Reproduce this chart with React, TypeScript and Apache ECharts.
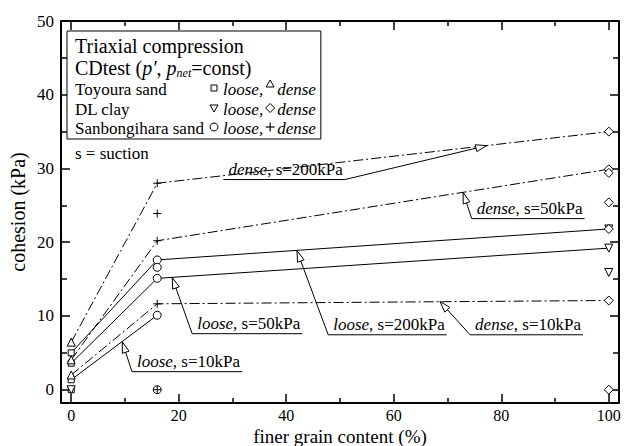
import React, { useEffect, useRef } from "react";
import * as echarts from "echarts";

// ---- axis ticks ----
const xTicks = [0, 20, 40, 60, 80, 100];
const xMinor = [10, 30, 50, 70, 90];
const yTicks = [0, 10, 20, 30, 40, 50];
const yMinor = [5, 15, 25, 35, 45];

// ---- finer grain content of each soil (%) ----
const toyouraX = 0;
const sanbongiharaX = 16;
const dlClayX = 100;

// ---- measured cohesion (kPa) ----
const toyouraLoose = [5.0, 3.6, 1.35, 0]; // squares
const toyouraDense = [6.45, 4.05, 2.0]; // triangles up
const toyouraExtra = [0]; // triangle down at origin
const sanbLoose = [17.6, 16.6, 15.1, 10.1, 0]; // circles
const sanbDense = [28, 23.9, 20.2, 11.65, 0]; // plus
const dlLoose = [21.8, 19.2, 15.9]; // triangles down
const dlDense = [35, 29.9, 29.4, 25.4, 21.8, 12.1, 0]; // diamonds

// ---- connecting lines ----
const fitX = [0, 16, 100];
const denseS200 = [6.45, 28, 35];
const denseS50 = [4.05, 20.2, 29.9];
const denseS10 = [2.0, 11.65, 12.1];
const looseS200 = [5.0, 17.6, 21.8];
const looseS50 = [3.6, 15.1, 19.2];
const looseS10 = [1.35, 10.1];

// ---- annotations (data coordinates) ----
const annotations = [
  { state: "loose", s: "10kPa", tip: [9.5, 6.5], anchor: [11.3, 2.45], side: "left" },
  { state: "loose", s: "50kPa", tip: [18.8, 15.2], anchor: [22.5, 7.6], side: "left" },
  { state: "loose", s: "200kPa", tip: [42, 18.85], anchor: [47.8, 7.45], side: "left" },
  { state: "dense", s: "10kPa", tip: [68.6, 11.95], anchor: [74.2, 7.45], side: "left" },
  { state: "dense", s: "50kPa", tip: [72.9, 26.75], anchor: [74.5, 23.2], side: "left" },
  { state: "dense", s: "200kPa", tip: [77.3, 33.1], anchor: [50.9, 28.5], side: "right" },
];

const legendRows = [
  { name: "Toyoura sand", loose: "square", dense: "triangleUp" },
  { name: "DL clay", loose: "triangleDown", dense: "diamond" },
  { name: "Sanbongihara sand", loose: "circle", dense: "plus" },
];

const FONT = "Liberation Serif";
const X_MIN = -1.9, X_MAX = 101.9, Y_MIN = -1.8, Y_MAX = 50;

function measure(text: string, font: string) {
  const c = document.createElement("canvas").getContext("2d")!;
  c.font = font;
  return c.measureText(text).width;
}

const PLUS = "path://M5,0L5,10M0,5L10,5";

function pts(x: number, ys: number[]) {
  return ys.map((y) => [x, y]);
}

function scatter(data: number[][], symbol: string, size: number, rotate = 0) {
  return {
    type: "scatter",
    data,
    symbol,
    symbolSize: size,
    symbolRotate: rotate,
    z: 5,
    itemStyle: {
      color: symbol === PLUS ? "transparent" : "#fff",
      borderColor: "#000",
      borderWidth: 1,
      opacity: 1,
    },
    emphasis: { disabled: true },
  };
}

function fitLine(ys: number[], dashed: boolean) {
  return {
    type: "line",
    data: ys.map((y, i) => [fitX[i], y]),
    symbol: "none",
    z: 3,
    lineStyle: {
      color: "#000",
      width: 1,
      type: dashed ? [10, 3, 2, 3] : "solid",
    },
    emphasis: { disabled: true },
  };
}

function legendMarker(kind: string, cx: number, cy: number) {
  const st = { fill: "#fff", stroke: "#000", lineWidth: 1 };
  switch (kind) {
    case "square":
      return [{ type: "rect", shape: { x: cx - 3, y: cy - 3, width: 6, height: 6 }, style: st }];
    case "triangleUp":
      return [{ type: "polygon", shape: { points: [[cx, cy - 4], [cx + 4, cy + 3], [cx - 4, cy + 3]] }, style: st }];
    case "triangleDown":
      return [{ type: "polygon", shape: { points: [[cx - 4, cy - 3], [cx + 4, cy - 3], [cx, cy + 4]] }, style: st }];
    case "circle":
      return [{ type: "circle", shape: { cx, cy, r: 4 }, style: st }];
    case "diamond":
      return [{ type: "polygon", shape: { points: [[cx, cy - 4.5], [cx + 4.5, cy], [cx, cy + 4.5], [cx - 4.5, cy]] }, style: st }];
    default:
      return [
        { type: "line", shape: { x1: cx - 4.5, y1: cy, x2: cx + 4.5, y2: cy }, style: { stroke: "#000", lineWidth: 1.2 } },
        { type: "line", shape: { x1: cx, y1: cy - 4.5, x2: cx, y2: cy + 4.5 }, style: { stroke: "#000", lineWidth: 1.2 } },
      ];
  }
}

export default function App() {
  const ref = useRef<HTMLDivElement>(null);

  useEffect(() => {
    const chart = echarts.init(ref.current!, null, { renderer: "svg" });

    const axisLineStyle = { color: "#000", width: 2 };
    const tickStyle = { color: "#000", width: 1.5 };
    const xAxisBase = { type: "value", min: X_MIN, max: X_MAX, splitLine: { show: false } };
    const yAxisBase = { type: "value", min: Y_MIN, max: Y_MAX, splitLine: { show: false } };

    const option: any = {
      animation: false,
      backgroundColor: "#fff",
      textStyle: { fontFamily: FONT },
      grid: { left: 61, right: 5, top: 21, bottom: 43, containLabel: false, outerBoundsMode: "none" },
      xAxis: [
        {
          ...xAxisBase,
          position: "bottom",
          axisLine: { show: true, onZero: false, lineStyle: axisLineStyle },
          axisTick: { show: true, inside: true, length: 9, customValues: xTicks, lineStyle: tickStyle },
          axisLabel: { show: true, customValues: xTicks, color: "#000", fontFamily: FONT, fontSize: 16, lineHeight: 16, margin: 4 },
          name: "finer grain content (%)",
          nameLocation: "middle",
          nameGap: 24,
          nameMoveOverlap: false,
          nameTextStyle: { color: "#000", fontFamily: FONT, fontSize: 19, verticalAlign: "top", lineHeight: 19 },
        },
        {
          ...xAxisBase,
          position: "bottom",
          axisLine: { show: false, onZero: false },
          axisTick: { show: true, inside: true, length: 5, customValues: xMinor, lineStyle: tickStyle },
          axisLabel: { show: false },
        },
        {
          ...xAxisBase,
          position: "top",
          axisLine: { show: true, onZero: false, lineStyle: axisLineStyle },
          axisTick: { show: true, inside: true, length: 9, customValues: xTicks, lineStyle: tickStyle },
          axisLabel: { show: false },
        },
        {
          ...xAxisBase,
          position: "top",
          axisLine: { show: false, onZero: false },
          axisTick: { show: true, inside: true, length: 5, customValues: xMinor, lineStyle: tickStyle },
          axisLabel: { show: false },
        },
      ],
      yAxis: [
        {
          ...yAxisBase,
          position: "left",
          axisLine: { show: true, onZero: false, lineStyle: axisLineStyle },
          axisTick: { show: true, inside: true, length: 9, customValues: yTicks, lineStyle: tickStyle },
          axisLabel: { show: true, customValues: yTicks, color: "#000", fontFamily: FONT, fontSize: 17, margin: 7 },
          name: "cohesion (kPa)",
          nameLocation: "middle",
          nameGap: 33,
          nameRotate: 90,
          nameMoveOverlap: false,
          nameTextStyle: { color: "#000", fontFamily: FONT, fontSize: 20 },
        },
        {
          ...yAxisBase,
          position: "left",
          axisLine: { show: false, onZero: false },
          axisTick: { show: true, inside: true, length: 6, customValues: yMinor, lineStyle: tickStyle },
          axisLabel: { show: false },
        },
        {
          ...yAxisBase,
          position: "right",
          axisLine: { show: true, onZero: false, lineStyle: axisLineStyle },
          axisTick: { show: true, inside: true, length: 9, customValues: yTicks, lineStyle: tickStyle },
          axisLabel: { show: false },
        },
        {
          ...yAxisBase,
          position: "right",
          axisLine: { show: false, onZero: false },
          axisTick: { show: true, inside: true, length: 6, customValues: yMinor, lineStyle: tickStyle },
          axisLabel: { show: false },
        },
      ],
      series: [
        fitLine(denseS200, true),
        fitLine(denseS50, true),
        fitLine(denseS10, true),
        fitLine(looseS200, false),
        fitLine(looseS50, false),
        fitLine(looseS10, false),
        scatter(pts(toyouraX, toyouraLoose), "rect", 6),
        scatter(pts(toyouraX, toyouraDense), "triangle", 8),
        scatter(pts(toyouraX, toyouraExtra), "triangle", 8, 180),
        scatter(pts(sanbongiharaX, sanbLoose), "circle", 8),
        scatter(pts(sanbongiharaX, sanbDense), PLUS, 8),
        scatter(pts(dlClayX, dlLoose), "triangle", 8, 180),
        scatter(pts(dlClayX, dlDense), "diamond", 9),
      ],
    };
    chart.setOption(option);

    const elements: any[] = [];
    const fs = 17;
    const fItal = `italic ${fs}px "${FONT}"`;
    const fNorm = `${fs}px "${FONT}"`;

    // annotations
    annotations.forEach((a) => {
      const tip = chart.convertToPixel({ xAxisIndex: 0, yAxisIndex: 0 }, a.tip) as number[];
      const anc = chart.convertToPixel({ xAxisIndex: 0, yAxisIndex: 0 }, a.anchor) as number[];
      const rest = `, s=${a.s}`;
      const w = measure(a.state, fItal) + measure(rest, fNorm);
      const padL = 5, padR = 2;
      const x0 = a.side === "left" ? anc[0] : anc[0] - (w + padL + padR);
      const x1 = x0 + w + padL + padR;
      const uy = anc[1];
      elements.push({ type: "line", shape: { x1: x0, y1: uy, x2: x1, y2: uy }, style: { stroke: "#000", lineWidth: 1 }, z: 10 });
      elements.push({
        type: "text",
        x: x0 + padL,
        y: uy - 10,
        z: 10,
        style: {
          text: `{i|${a.state}}{n|${rest}}`,
          verticalAlign: "middle",
          align: "left",
          fill: "#000",
          fontFamily: FONT,
          fontSize: fs,
          rich: {
            i: { fontFamily: FONT, fontStyle: "italic", fontSize: fs, fill: "#000" },
            n: { fontFamily: FONT, fontSize: fs, fill: "#000" },
          },
        },
      });
      // leader
      elements.push({ type: "line", shape: { x1: anc[0], y1: anc[1], x2: tip[0], y2: tip[1] }, style: { stroke: "#000", lineWidth: 1 }, z: 10 });
      const dx = anc[0] - tip[0], dy = anc[1] - tip[1];
      const len = Math.hypot(dx, dy);
      const ux = dx / len, uyv = dy / len;
      const L = 11, W = 3.5;
      const bx = tip[0] + ux * L, by = tip[1] + uyv * L;
      elements.push({
        type: "polygon",
        z: 11,
        shape: { points: [[tip[0], tip[1]], [bx - uyv * W, by + ux * W], [bx + uyv * W, by - ux * W]] },
        style: { fill: "#fff", stroke: "#000", lineWidth: 1 },
      });
    });

    // legend box
    const lx = 75;
    const titleFont = 20;
    const rowFs = 17;
    const markerLooseX = 214;
    const looseTextX = 223;
    let maxRight = 0;
    const rowYs = [89, 109, 128];
    legendRows.forEach((r, i) => {
      const y = rowYs[i];
      elements.push({ type: "text", x: lx, y, z: 20, style: { text: r.name, fontFamily: FONT, fontSize: rowFs, fill: "#000", verticalAlign: "middle" } });
      elements.push(...legendMarker(r.loose, markerLooseX, y - 1).map((e) => ({ ...e, z: 20 })));
      const looseW = measure("loose,", `italic ${rowFs}px "${FONT}"`);
      elements.push({ type: "text", x: looseTextX, y, z: 20, style: { text: "loose,", fontFamily: FONT, fontStyle: "italic", fontSize: rowFs, fill: "#000", verticalAlign: "middle" } });
      const dmx = looseTextX + looseW + 7;
      elements.push(...legendMarker(r.dense, dmx, y - (r.dense === "triangleUp" ? 5 : 1)).map((e) => ({ ...e, z: 20 })));
      const dtx = dmx + 7;
      elements.push({ type: "text", x: dtx, y, z: 20, style: { text: "dense", fontFamily: FONT, fontStyle: "italic", fontSize: rowFs, fill: "#000", verticalAlign: "middle" } });
      maxRight = Math.max(maxRight, dtx + measure("dense", `italic ${rowFs}px "${FONT}"`));
    });
    elements.push({ type: "text", x: lx, y: 46, z: 20, style: { text: "Triaxial compression", fontFamily: FONT, fontSize: titleFont, fill: "#000", verticalAlign: "middle" } });
    // CDtest (p', p_net=const)
    const tokens = [
      { t: "CDtest (", it: false, size: titleFont, dy: 0 },
      { t: "p\u2032", it: true, size: titleFont, dy: 0 },
      { t: ", ", it: false, size: titleFont, dy: 0 },
      { t: "p", it: true, size: titleFont, dy: 0 },
      { t: "net", it: true, size: 12, dy: 5 },
      { t: "=const)", it: false, size: titleFont, dy: 0 },
    ];
    let tx = lx;
    tokens.forEach((tk) => {
      const f = `${tk.it ? "italic " : ""}${tk.size}px "${FONT}"`;
      elements.push({
        type: "text",
        x: tx,
        y: 68 + tk.dy,
        z: 20,
        style: { text: tk.t, fontFamily: FONT, fontStyle: tk.it ? "italic" : "normal", fontSize: tk.size, fill: "#000", verticalAlign: "middle" },
      });
      tx += measure(tk.t, f);
    });
    maxRight = Math.max(maxRight, tx);
    elements.unshift({
      type: "rect",
      z: 19,
      shape: { x: 67, y: 31, width: maxRight + 5 - 67, height: 108 },
      style: { fill: "#fff", stroke: "#000", lineWidth: 1 },
    });
    elements.push({ type: "text", x: lx, y: 153, z: 20, style: { text: "s = suction", fontFamily: FONT, fontSize: rowFs, fill: "#000", verticalAlign: "middle" } });

    chart.setOption({ graphic: { elements } });

    return () => chart.dispose();
  }, []);

  return <div ref={ref} style={{ position: "absolute", left: 0, top: 0, width: 624, height: 446 }} />;
}
